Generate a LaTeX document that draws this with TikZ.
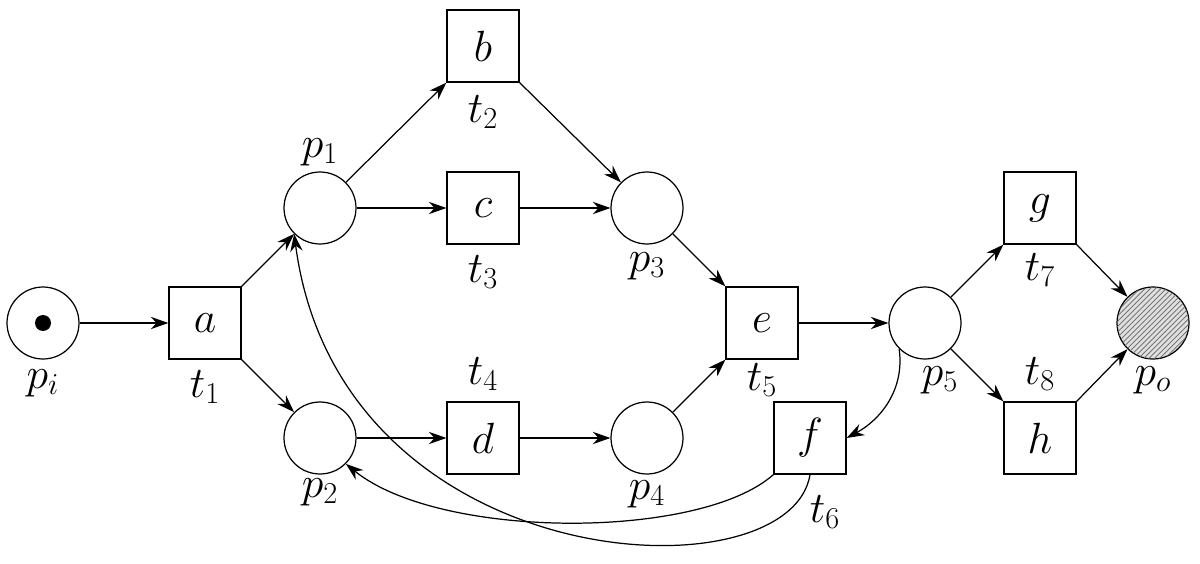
\documentclass[tikz,border=0pt]{standalone}
\usetikzlibrary{arrows.meta,patterns}
\begin{document}
\begin{tikzpicture}[x=0.02cm,y=-0.02cm,
  pl/.style={circle,draw,minimum size=1.44cm,inner sep=0pt},
  tr/.style={rectangle,draw,minimum size=1.44cm,inner sep=0pt,font=\fontsize{24}{28}\selectfont},
  lb/.style={font=\fontsize{24}{28}\selectfont},
  ar/.style={-{Stealth[length=10pt,width=7pt]},line width=0.7pt},
  every node/.append style={line width=0.7pt}]
\useasboundingbox (0,0) rectangle (1200,564);
\node[pl] (pi) at (43,323) {};
\fill (43,323) circle (8);
\node[tr] (a) at (205,323) {$a$};
\node[pl] (p1) at (320,208) {};
\node[pl] (p2) at (320,438) {};
\node[tr] (b) at (483,46) {$b$};
\node[tr] (c) at (483,208) {$c$};
\node[tr] (d) at (483,438) {$d$};
\node[pl] (p3) at (647,208) {};
\node[pl] (p4) at (647,438) {};
\node[tr] (e) at (762,323) {$e$};
\node[pl] (p5) at (925,323) {};
\node[tr,fill=white] (f) at (810,438) {$f$};
\node[tr] (g) at (1040,208) {$g$};
\node[tr] (h) at (1040,438) {$h$};
\node[pl,fill=gray!25,postaction={pattern=north east lines,pattern color=gray!80!black}] (po) at (1153,323) {};
\node[lb] (lpi) at (43,383) {$p_i$};
\node[lb] (lt1) at (205,387) {$t_1$};
\node[lb] (lp1) at (320,152) {$p_1$};
\node[lb] (lp2) at (320,492) {$p_2$};
\node[lb] (lt2) at (483,112) {$t_2$};
\node[lb] (lt3) at (483,272) {$t_3$};
\node[lb] (lt4) at (483,374) {$t_4$};
\node[lb] (lp3) at (647,266) {$p_3$};
\node[lb] (lp4) at (647,494) {$p_4$};
\node[lb] (lt5) at (762,380) {$t_5$};
\node[lb] (lp5) at (940,380) {$p_5$};
\node[lb] (lt6) at (825,512) {$t_6$};
\node[lb] (lt7) at (1040,270) {$t_7$};
\node[lb] (lt8) at (1040,374) {$t_8$};
\node[lb] (lpo) at (1153,380) {$p_o$};
\draw[ar] (pi) -- (a);
\draw[ar] (a.north east) -- (p1);
\draw[ar] (a.south east) -- (p2);
\draw[ar] (p1) -- (b.south west);
\draw[ar] (p1) -- (c);
\draw[ar] (p2) -- (d);
\draw[ar] (b.south east) -- (p3);
\draw[ar] (c) -- (p3);
\draw[ar] (d) -- (p4);
\draw[ar] (p3) -- (e.north west);
\draw[ar] (p4) -- (e.south west);
\draw[ar] (e) -- (p5);
\draw[ar] (p5) -- (g.south west);
\draw[ar] (p5) -- (h.north west);
\draw[ar] (g.south east) -- (po);
\draw[ar] (h.north east) -- (po);
\draw[ar] (p5.south west) .. controls (905,390) and (880,420) .. (f.east);
\draw[ar] (f.south west) .. controls (700,540) and (440,540) .. (p2.south east);
\draw[ar] (f.south) .. controls (790,600) and (340,580) .. (p1.south west);
\end{tikzpicture}
\end{document}
